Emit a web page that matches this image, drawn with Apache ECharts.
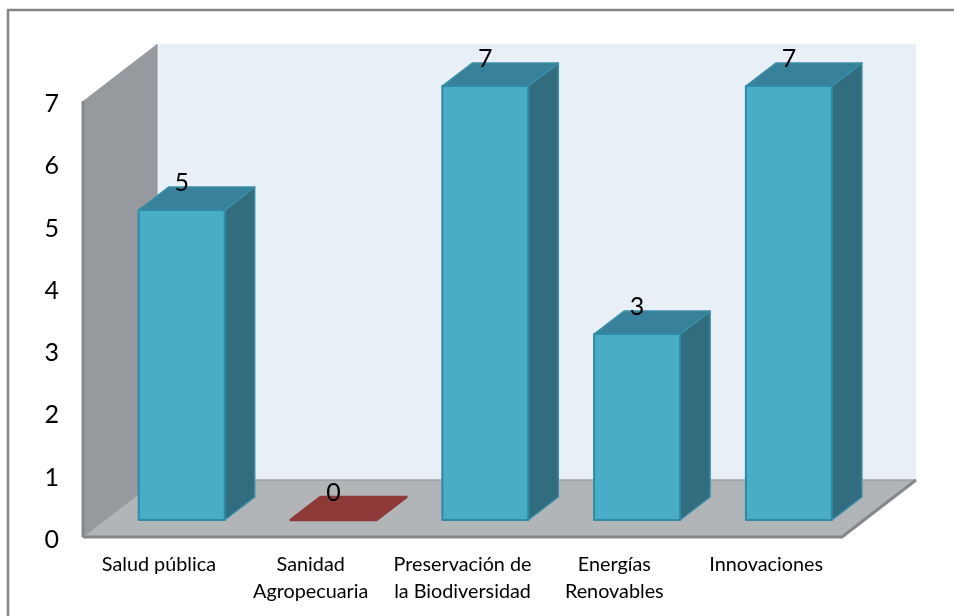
<!DOCTYPE html>
<html>
<head>
<meta charset="utf-8">
<script src="https://cdn.jsdelivr.net/npm/echarts@6/dist/echarts.min.js"></script>
<style>
html, body { margin: 0; padding: 0; background: #fff; }
#chart { width: 954px; height: 616px; }
</style>
</head>
<body>
<div id="chart"></div>
<script>
var categories = ["Salud pública", "Sanidad\nAgropecuaria", "Preservación de\nla Biodiversidad", "Energías\nRenovables", "Innovaciones"];
var values = [5, 0, 7, 3, 7];
var yTicks = [0, 1, 2, 3, 4, 5, 6, 7];

var chart = echarts.init(document.getElementById("chart"));

// pseudo 3d: how far the back of the box sits from its front
var wallDX = 74, wallDY = -57;
var barDX = 30, barDY = -23;
var barW = 86;
var barShiftX = 22.8, barShiftY = -17;
var barScale = 62 / 62.3;

function poly(points, fill, stroke, width) {
    return {
        type: "polygon",
        shape: { points: points },
        style: { fill: fill, stroke: stroke || null, lineWidth: width || 0, lineJoin: "round" }
    };
}

function renderWalls(params) {
    var g = params.coordSys;
    var x0 = g.x, x1 = g.x + g.width, top = g.y, bottom = g.y + g.height;
    return {
        type: "group",
        children: [
            poly([[x0 + wallDX, top + wallDY], [x1 + wallDX, top + wallDY], [x1 + wallDX, bottom + wallDY], [x0 + wallDX, bottom + wallDY]], "#e8eff6"),
            poly([[x0, top], [x0 + wallDX, top + wallDY], [x0 + wallDX, bottom + wallDY], [x0, bottom]], "#96999d"),
            poly([[x0, bottom], [x0 + wallDX, bottom + wallDY], [x1 + wallDX, bottom + wallDY], [x1, bottom]], "#b1b5b8"),
            { type: "line", shape: { x1: x0, y1: top, x2: x0, y2: bottom }, style: { stroke: "#85878a", lineWidth: 3 } },
            { type: "line", shape: { x1: x0 + wallDX, y1: top + wallDY, x2: x0 + wallDX, y2: bottom + wallDY }, style: { stroke: "#8f9194", lineWidth: 1 } },
            { type: "line", shape: { x1: x0 + wallDX, y1: bottom + wallDY, x2: x1 + wallDX, y2: bottom + wallDY }, style: { stroke: "#9fa2a5", lineWidth: 1.5 } },
            { type: "line", shape: { x1: x0, y1: bottom, x2: x0 + wallDX, y2: bottom + wallDY }, style: { stroke: "#9a9c9f", lineWidth: 1 } },
            { type: "polyline", shape: { points: [[x0, bottom], [x1, bottom], [x1 + wallDX, bottom + wallDY]] }, style: { fill: null, stroke: "#85878a", lineWidth: 3 } }
        ]
    };
}

function renderBar(params, api) {
    var i = api.value(0), v = api.value(1);
    var base = api.coord([i, 0]);
    var head = api.coord([i, v]);
    var left = base[0] + barShiftX - barW / 2;
    var right = left + barW;
    var yb = base[1] + barShiftY;
    var yt = yb + (head[1] - base[1]) * barScale;
    var kids = [];
    if (v === 0) {
        // empty category, only a flat plate on the floor
        kids.push(poly([[left, yb], [right, yb], [right + barDX, yb + barDY], [left + barDX, yb + barDY]], "#8e3a38", "#8e3a38", 2.5));
    } else {
        kids.push(poly([[right, yb], [right + barDX, yb + barDY], [right + barDX, yt + barDY], [right, yt]], "#316d7e", "#3a8ea8", 1.5));
        kids.push(poly([[left, yt], [right, yt], [right + barDX, yt + barDY], [left + barDX, yt + barDY]], "#38819a", "#3a8ea8", 1.5));
        kids.push(poly([[left, yb], [right, yb], [right, yt], [left, yt]], "#49adc8", "#2f8aa5", 2));
    }
    kids.push({
        type: "text",
        z2: 10,
        style: {
            text: String(v),
            x: left + barW / 2,
            y: yt - 27,
            align: "center",
            verticalAlign: "middle",
            font: "25px Lato, sans-serif",
            fill: "#000"
        }
    });
    return { type: "group", children: kids };
}

var barData = [];
for (var i = 0; i < values.length; i++) {
    barData.push([i, values[i]]);
}

chart.setOption({
    animation: false,
    backgroundColor: "#fff",
    graphic: [{
        type: "polyline",
        shape: { points: [[8, 616], [8, 10], [954, 10]] },
        style: { fill: null, stroke: "#868686", lineWidth: 2.5 },
        silent: true
    }],
    grid: { left: 83, right: 112, top: 101, bottom: 79 },
    xAxis: {
        type: "category",
        data: categories,
        axisLine: { show: false },
        axisTick: { show: false },
        splitLine: { show: false },
        axisLabel: {
            margin: 14,
            interval: 0,
            color: "#000",
            fontFamily: "Lato, sans-serif",
            fontSize: 19.8,
            lineHeight: 27,
            verticalAlign: "top"
        }
    },
    yAxis: {
        type: "value",
        min: yTicks[0],
        max: yTicks[yTicks.length - 1],
        interval: 1,
        axisLine: { show: false },
        axisTick: { show: false },
        splitLine: { show: false },
        axisLabel: {
            margin: 24,
            color: "#000",
            fontFamily: "Lato, sans-serif",
            fontSize: 25,
            lineHeight: 6,
            verticalAlign: "top"
        }
    },
    series: [
        { type: "custom", name: "walls", z: 1, silent: true, renderItem: renderWalls, data: [[0, 0]], encode: { x: 0, y: 1 }, clip: false },
        { type: "custom", name: "Proyectos", z: 3, renderItem: renderBar, data: barData, encode: { x: 0, y: 1 }, clip: false }
    ]
});
</script>
</body>
</html>
